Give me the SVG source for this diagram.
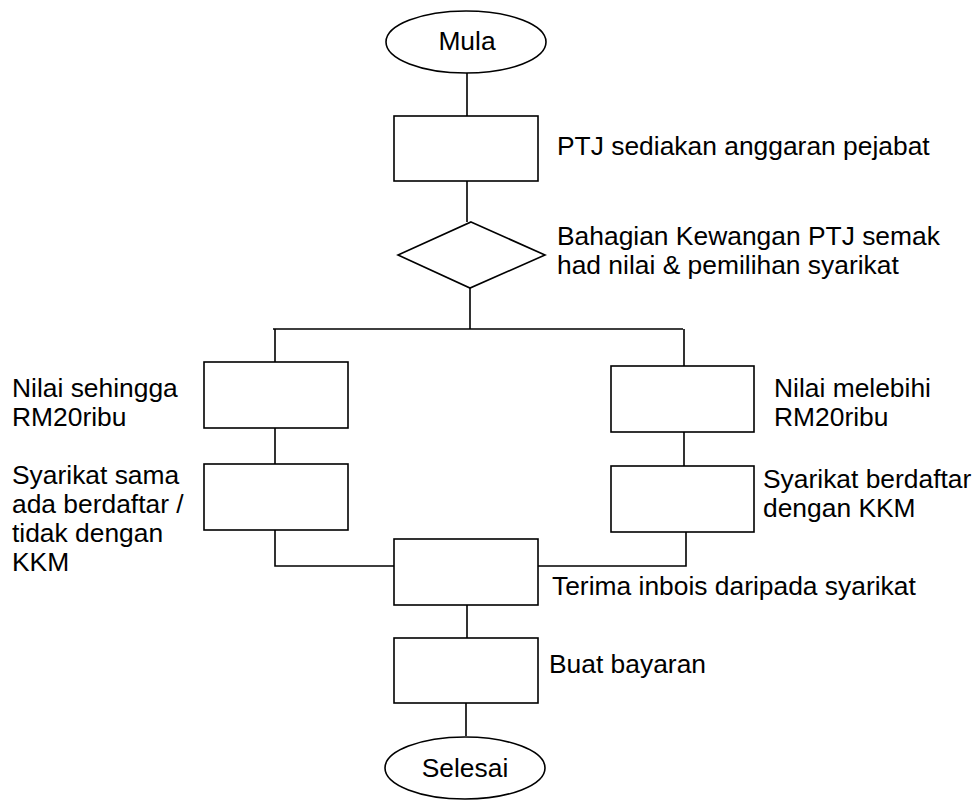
<svg xmlns="http://www.w3.org/2000/svg" width="979" height="800" viewBox="0 0 979 800">
<style>
.s{fill:#fff;stroke:#000;stroke-width:1.6}
.c{fill:none;stroke:#000;stroke-width:1.6}
text{font-family:"Liberation Sans",Arial,sans-serif;font-size:26.4px;fill:#000}
.m{text-anchor:middle}
</style>
<rect width="979" height="800" fill="#fff"/>
<g id="connectors">
<path class="c" d="M467 73V116M467 181V222M470 288V329M273 329H683M275 329V362M275 428V464M275 530V566H394M684 329V366M684 432V466M686 532V566H538M467 605V638M466 703V736"/>
</g>
<g id="mula"><ellipse class="s" cx="466" cy="42" rx="80" ry="31"/><text class="m" x="467" y="50">Mula</text></g>
<g id="n1"><rect class="s" x="394" y="116" width="144" height="65"/><text x="557" y="155">PTJ sediakan anggaran pejabat</text></g>
<g id="d1"><polygon class="s" points="471,222 545,255 470,288 398,255"/><text x="557" y="245">Bahagian Kewangan PTJ semak</text><text x="557" y="274">had nilai &amp; pemilihan syarikat</text></g>
<g id="l1"><rect class="s" x="204" y="362" width="144" height="66"/><text x="12" y="397">Nilai sehingga</text><text x="12" y="426">RM20ribu</text></g>
<g id="l2"><rect class="s" x="204" y="464" width="144" height="66"/><text x="12" y="484">Syarikat sama</text><text x="12" y="513">ada berdaftar /</text><text x="12" y="542">tidak dengan</text><text x="12" y="571">KKM</text></g>
<g id="r1"><rect class="s" x="611" y="366" width="143" height="66"/><text x="774" y="397">Nilai melebihi</text><text x="774" y="426">RM20ribu</text></g>
<g id="r2"><rect class="s" x="611" y="466" width="143" height="66"/><text x="763" y="488">Syarikat berdaftar</text><text x="763" y="517">dengan KKM</text></g>
<g id="n2"><rect class="s" x="394" y="539" width="144" height="66"/><text x="552" y="595">Terima inbois daripada syarikat</text></g>
<g id="n3"><rect class="s" x="394" y="638" width="144" height="65"/><text x="549" y="673">Buat bayaran</text></g>
<g id="selesai"><ellipse class="s" cx="465" cy="768" rx="80" ry="31"/><text class="m" x="465" y="777">Selesai</text></g>
</svg>
